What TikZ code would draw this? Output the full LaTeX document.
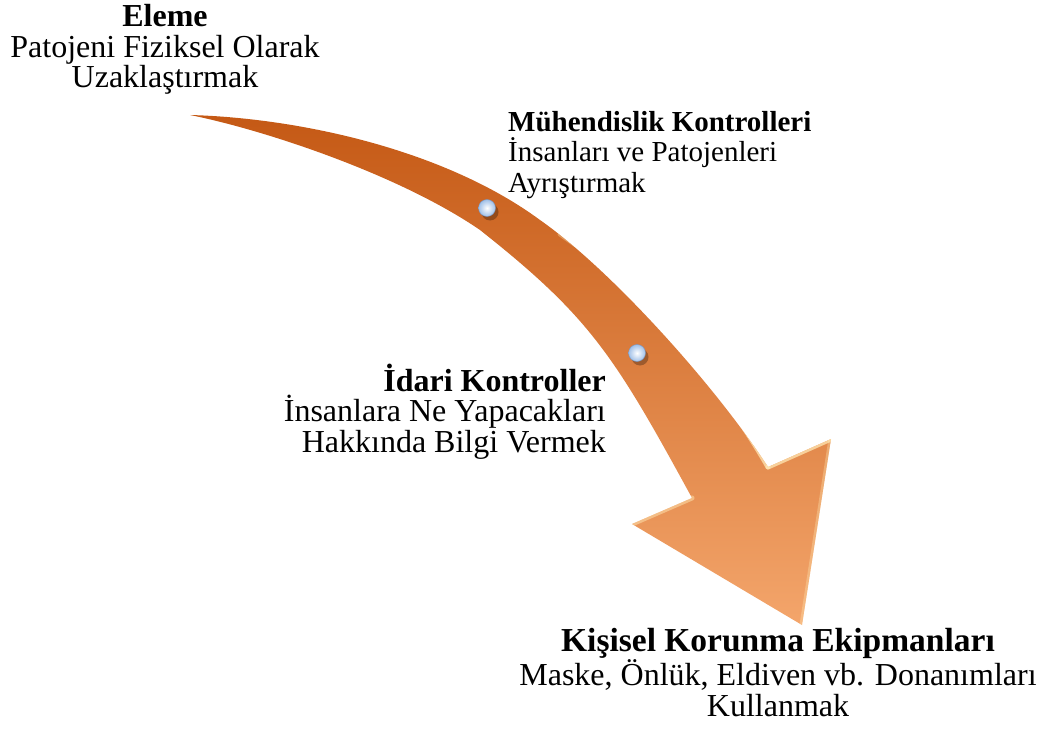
\documentclass[tikz,border=0pt]{standalone}
\usepackage{fontspec}
\setmainfont{Liberation Serif}
\definecolor{arrdark}{RGB}{196,88,20}
\definecolor{arrmid}{RGB}{224,130,62}
\definecolor{arrlight}{RGB}{244,166,108}
\definecolor{hilite}{RGB}{255,232,180}
\definecolor{dotblue}{RGB}{160,192,232}
\definecolor{dotrim}{RGB}{120,150,195}
\begin{document}
\begin{tikzpicture}[x=1pt,y=-1pt,
  txt/.style={font=\fontsize{32}{30.5}\selectfont, inner sep=0pt},
  dot/.style={circle, minimum size=17pt, inner sep=0pt, shading=radial, inner color=white, outer color=dotblue, draw=dotrim, line width=0.4pt},
  dotshadow/.style={fill=black, opacity=0.28},
  bevel/.style={hilite, line width=5pt, opacity=0.75, line cap=round}]
\useasboundingbox (0,0) rectangle (1047,733);
\begin{scope}
  \clip (190,115) .. controls (300,118) and (445,150) .. (540,220)
    .. controls (610,269) and (715,385) .. (768,467)
    -- (831,439) -- (802,625) -- (632,524) -- (692,498)
    .. controls (614,355) and (590,317) .. (480,230)
    .. controls (400,175) and (265,130) .. (190,115) -- cycle;
  \shade[top color=arrdark, middle color=arrmid, bottom color=arrlight] (180,110) rectangle (840,630);
  \draw[bevel, opacity=0.35] (560,234) .. controls (580,248) and (595,258) .. (610,269);
  \draw[bevel] (610,269) .. controls (660,310) and (730,400) .. (768,467);
  \draw[bevel] (768,467) -- (831,439);
  \draw[bevel, opacity=0.5] (692,498) -- (632,524);
  \draw[bevel, opacity=0.35] (831,439) -- (802,625);
\end{scope}
\fill[dotshadow] (490,212) circle (8.5);
\fill[dotshadow] (640,357) circle (8.5);
\node[dot] (d1) at (487,208) {};
\node[dot] (d2) at (637,353) {};
\node[txt, align=center, anchor=base] (t1) at (165,88) {\textbf{Eleme}\\Patojeni Fiziksel Olarak\\Uzaklaştırmak};
\node[txt, font=\fontsize{29}{30}\selectfont, align=left, anchor=base west] (t2) at (508,192) {\textbf{Mühendislik Kontrolleri}\\İnsanları ve Patojenleri\\Ayrıştırmak};
\node[txt, align=right, anchor=base east] (t3) at (606,452) {\textbf{İdari Kontroller}\\İnsanlara Ne Yapacakları\\Hakkında Bilgi Vermek};
\node[txt, align=center, anchor=base] (t4) at (778,716) {{\fontsize{33.5}{30.5}\selectfont\textbf{Kişisel Korunma Ekipmanları}}\\Maske, Önlük, Eldiven vb. Donanımları\\Kullanmak};
\end{tikzpicture}
\end{document}
